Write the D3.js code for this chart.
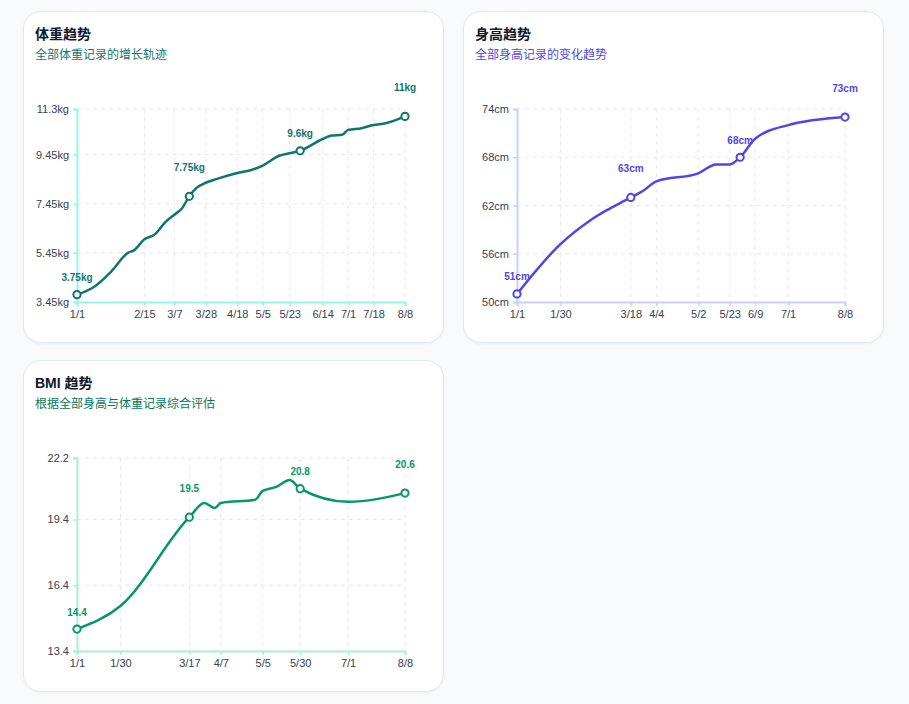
<!DOCTYPE html>
<html>
<head>
<meta charset="utf-8">
<script src="https://cdn.jsdelivr.net/npm/d3@7"></script>
<style>
  body {
    margin: 0;
    background: #f8fafc;
    font-family: "Liberation Sans", Arial, "Noto Sans CJK SC", sans-serif;
  }
  #wrap {
    position: relative;
    width: 909px;
    height: 704px;
  }
  .card {
    position: absolute;
    width: 419px;
    height: 330px;
    background: #fff;
    border: 1px solid #e2e8f0;
    border-radius: 18px;
    box-shadow: 0 1px 3px rgba(15, 23, 42, 0.05);
    overflow: hidden;
  }
  .card svg { display: block; }
</style>
</head>
<body>
<div id="wrap"></div>
<script>
// ---- weight ----
const weightDates = ["2025-01-01", "2025-01-12", "2025-01-24", "2025-02-04", "2025-02-08", "2025-02-15",
  "2025-02-22", "2025-03-01", "2025-03-07", "2025-03-12", "2025-03-17", "2025-03-22", "2025-03-28",
  "2025-04-04", "2025-04-18", "2025-04-28", "2025-05-05", "2025-05-16", "2025-05-23", "2025-05-30",
  "2025-06-14", "2025-06-20", "2025-06-27", "2025-07-01", "2025-07-10", "2025-07-18", "2025-07-26", "2025-08-08"];
const weightValues = [3.75, 4.05, 4.7, 5.45, 5.55, 6.0,
  6.2, 6.7, 7.0, 7.25, 7.75, 8.1, 8.3,
  8.45, 8.7, 8.83, 9.0, 9.4, 9.5, 9.6,
  10.08, 10.22, 10.25, 10.45, 10.52, 10.65, 10.72, 11.0];
const weightXTicks = ["2025-01-01", "2025-02-15", "2025-03-07", "2025-03-28", "2025-04-18", "2025-05-05",
  "2025-05-23", "2025-06-14", "2025-07-01", "2025-07-18", "2025-08-08"];
const weightYTicks = [3.45, 5.45, 7.45, 9.45, 11.3];
const weightMarks = ["2025-01-01", "2025-03-17", "2025-05-30", "2025-08-08"];

// ---- height ----
const heightDates = ["2025-01-01", "2025-01-30", "2025-02-20", "2025-03-18", "2025-03-26", "2025-04-04",
  "2025-05-02", "2025-05-14", "2025-05-23", "2025-05-30", "2025-06-09", "2025-07-01", "2025-08-08"];
const heightValues = [51, 57.2, 60.3, 63, 63.8, 65, 66, 67.1, 67.1, 68, 70.3, 72, 73];
const heightXTicks = ["2025-01-01", "2025-01-30", "2025-03-18", "2025-04-04", "2025-05-02", "2025-05-23",
  "2025-06-09", "2025-07-01", "2025-08-08"];
const heightYTicks = [50, 56, 62, 68, 74];
const heightMarks = ["2025-01-01", "2025-03-18", "2025-05-30", "2025-08-08"];

// ---- BMI ----
const bmiDates = ["2025-01-01", "2025-01-30", "2025-03-17", "2025-03-27", "2025-04-03",
  "2025-04-07", "2025-04-30", "2025-05-05", "2025-05-14", "2025-05-23", "2025-05-30", "2025-07-01", "2025-08-08"];
const bmiValues = [14.4, 15.45, 19.5, 20.15, 19.92, 20.15, 20.3, 20.7, 20.88, 21.2, 20.8, 20.2, 20.6];
const bmiXTicks = ["2025-01-01", "2025-01-30", "2025-03-17", "2025-04-07", "2025-05-05", "2025-05-30",
  "2025-07-01", "2025-08-08"];
const bmiYTicks = [13.4, 16.4, 19.4, 22.2];
const bmiMarks = ["2025-01-01", "2025-03-17", "2025-05-30", "2025-08-08"];

const parse = d3.timeParse("%Y-%m-%d");
const fmtDate = d3.timeFormat("%-m/%-d");

//Card size and inner plot box
var w = 419;
var h = 330;
var margin = { top: 97, right: 38, bottom: 40, left: 53 };

function drawCard(cfg) {
    var card = d3.select("#wrap")
        .append("div")
        .attr("class", "card")
        .style("left", cfg.left + "px")
        .style("top", cfg.top + "px");

    var svg = card.append("svg")
        .attr("width", w)
        .attr("height", h);

    //Title and subtitle
    svg.append("text")
        .attr("x", 11)
        .attr("y", 27)
        .attr("fill", "#0f172a")
        .style("font-size", "14px")
        .style("font-weight", "bold")
        .text(cfg.title);

    svg.append("text")
        .attr("x", 11)
        .attr("y", 47)
        .attr("fill", cfg.subColor)
        .style("font-size", "12px")
        .text(cfg.subtitle);

    var data = cfg.dates.map((d, i) => ({ date: parse(d), value: cfg.values[i] }));

    var x = d3.scaleTime()
        .domain(d3.extent(data, d => d.date))
        .range([margin.left, w - margin.right]);

    var y = d3.scaleLinear()
        .domain(d3.extent(cfg.yTicks))
        .range([h - margin.bottom, margin.top]);

    var xTicks = cfg.xTicks.map(parse);

    //Grid
    svg.append("g")
        .selectAll("line")
        .data(xTicks)
        .join("line")
        .attr("x1", d => x(d))
        .attr("x2", d => x(d))
        .attr("y1", margin.top)
        .attr("y2", h - margin.bottom)
        .attr("stroke", "#e5e7eb")
        .attr("stroke-dasharray", "4 4");

    svg.append("g")
        .selectAll("line")
        .data(cfg.yTicks)
        .join("line")
        .attr("x1", margin.left)
        .attr("x2", w - margin.right)
        .attr("y1", d => y(d))
        .attr("y2", d => y(d))
        .attr("stroke", "#e5e7eb")
        .attr("stroke-dasharray", "4 4");

    //Axes
    var xAxis = svg.append("g")
        .attr("transform", `translate(0,${h - margin.bottom})`)
        .call(d3.axisBottom(x).tickValues(xTicks).tickFormat(fmtDate).tickSize(4).tickPadding(4));

    var yAxis = svg.append("g")
        .attr("transform", `translate(${margin.left},0)`)
        .call(d3.axisLeft(y).tickValues(cfg.yTicks).tickFormat(d => d + cfg.unit).tickSize(4).tickPadding(4));

    [xAxis, yAxis].forEach(ax => {
        ax.select(".domain").attr("stroke", cfg.axisColor).attr("stroke-width", 2);
        ax.selectAll(".tick line").attr("stroke", cfg.axisColor).attr("stroke-width", 1.5);
        ax.selectAll(".tick text")
            .attr("fill", "#374151")
            .style("font-size", "11px")
            .style("font-family", "\"Liberation Sans\", Arial, sans-serif");
    });

    //Line
    var line = d3.line()
        .x(d => x(d.date))
        .y(d => y(d.value))
        .curve(d3.curveMonotoneX);

    svg.append("path")
        .datum(data)
        .attr("fill", "none")
        .attr("stroke", cfg.color)
        .attr("stroke-width", 2.5)
        .attr("stroke-linejoin", "round")
        .attr("d", line);

    //Marked points with labels
    var marks = data.filter(d => cfg.marks.includes(d3.timeFormat("%Y-%m-%d")(d.date)));

    svg.append("g")
        .selectAll("circle")
        .data(marks)
        .join("circle")
        .attr("cx", d => x(d.date))
        .attr("cy", d => y(d.value))
        .attr("r", 3.6)
        .attr("fill", "#fff")
        .attr("stroke", cfg.color)
        .attr("stroke-width", 2);

    svg.append("g")
        .selectAll("text")
        .data(marks)
        .join("text")
        .attr("x", d => x(d.date))
        .attr("y", (d, i) => y(d.value) - (i % 2 ? 25.5 : 13.5))
        .attr("text-anchor", "middle")
        .attr("fill", cfg.color)
        .style("font-size", "10px")
        .style("font-weight", "bold")
        .text(d => d.value + cfg.unit);
}

drawCard({
    left: 23, top: 11,
    title: "体重趋势", subtitle: "全部体重记录的增长轨迹",
    dates: weightDates, values: weightValues, xTicks: weightXTicks, yTicks: weightYTicks, marks: weightMarks,
    unit: "kg", color: "#0f766e", subColor: "#0f766e", axisColor: "#99f6e4"
});

drawCard({
    left: 463, top: 11,
    title: "身高趋势", subtitle: "全部身高记录的变化趋势",
    dates: heightDates, values: heightValues, xTicks: heightXTicks, yTicks: heightYTicks, marks: heightMarks,
    unit: "cm", color: "#4f46e5", subColor: "#4f46e5", axisColor: "#c7d2fe"
});

drawCard({
    left: 23, top: 360,
    title: "BMI 趋势", subtitle: "根据全部身高与体重记录综合评估",
    dates: bmiDates, values: bmiValues, xTicks: bmiXTicks, yTicks: bmiYTicks, marks: bmiMarks,
    unit: "", color: "#059669", subColor: "#047857", axisColor: "#a7f3d0"
});
</script>
</body>
</html>
